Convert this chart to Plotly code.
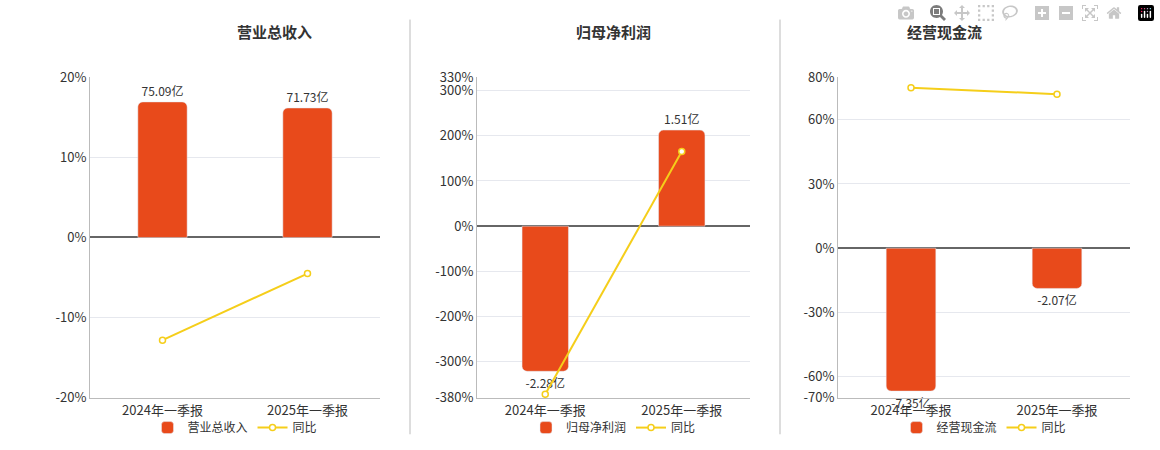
import plotly.graph_objects as go

periods = ["2024年一季报", "2025年一季报"]

titles = ["营业总收入", "归母净利润", "经营现金流"]
bar_values = [[75.09, 71.73], [-2.28, 1.51], [-7.35, -2.07]]
yoy_values = [[-12.8, -4.5], [-372, 165], [75, 72]]

pct_ticks = [
    [20, 10, 0, -10, -20],
    [330, 300, 200, 100, 0, -100, -200, -300, -380],
    [80, 60, 30, 0, -30, -60, -70],
]
pct_ranges = [[-20, 20], [-380, 330], [-70, 80]]
# bar units (亿) per 1% on the left axis
bar_scale = [75.09 / 16.9, 0.0071, 0.11]

BAR = "#E84A1B"
LINE = "#F5CE1A"
FONT = "Noto Sans CJK SC"

domains = [[90 / 1160, 380 / 1160], [477 / 1160, 750 / 1160], [838 / 1160, 1130 / 1160]]

fig = go.Figure()
layout = {}
annotations = []
for i in range(3):
    n = i + 1
    yb = 2 * i + 1
    yl = 2 * i + 2
    xa = "x" if n == 1 else "x%d" % n
    ybn = "y" if yb == 1 else "y%d" % yb
    yln = "y%d" % yl
    leg = "legend" if n == 1 else "legend%d" % n
    k = bar_scale[i]
    labels = ["%.2f亿" % v for v in bar_values[i]]
    fig.add_trace(go.Bar(x=periods, y=bar_values[i], xaxis=xa, yaxis=ybn,
                         name=titles[i], marker_color=BAR, width=0.34,
                         text=labels, textposition="outside", cliponaxis=False,
                         textfont=dict(size=12, color="#333"), legend=leg))
    fig.add_trace(go.Scatter(x=periods, y=yoy_values[i], xaxis=xa, yaxis=yln,
                             name="同比", mode="lines+markers",
                             line=dict(color=LINE, width=2),
                             marker=dict(size=6, color="white",
                                         line=dict(color=LINE, width=1.5)),
                             legend=leg))
    layout["xaxis" if n == 1 else "xaxis%d" % n] = dict(
        domain=domains[i], anchor=ybn, showline=True, linecolor="#bbb",
        ticks="", tickfont=dict(size=13, color="#333"))
    layout["yaxis" if yb == 1 else "yaxis%d" % yb] = dict(
        anchor=xa, range=[r * k for r in pct_ranges[i]],
        tickvals=[t * k for t in pct_ticks[i]],
        ticktext=["%d%%" % t for t in pct_ticks[i]],
        showgrid=True, gridcolor="#e6e8ee", zeroline=True, zerolinecolor="#666",
        zerolinewidth=1.5, showline=True, linecolor="#bbb",
        domain=[0.1, 1 - 70 / 450],
        tickfont=dict(size=13, color="#333"))
    layout["yaxis%d" % yl] = dict(
        overlaying=ybn, anchor=xa, range=pct_ranges[i], visible=False,
        domain=[0.1, 1 - 70 / 450])
    cx = (domains[i][0] + domains[i][1]) / 2
    layout[leg] = dict(orientation="h", x=cx, xanchor="center", y=1 - 436 / 450,
                       yanchor="middle", font=dict(size=12, color="#333"),
                       bgcolor="rgba(0,0,0,0)")
    annotations.append(dict(text="<b>%s</b>" % titles[i], x=cx, y=1 - 22 / 450,
                            yanchor="middle", xref="paper", yref="paper",
                            showarrow=False, font=dict(size=15, color="#333")))

shapes = [dict(type="line", xref="paper", yref="paper", x0=x, x1=x,
               y0=1 - 443 / 450, y1=1 - 10 / 450,
               line=dict(color="#bbb", width=1))
          for x in [410 / 1160, 780 / 1160]]

fig.update_layout(**layout)
fig.update_layout(width=1160, height=450, margin=dict(l=0, r=0, t=0, b=0),
                  paper_bgcolor="white", plot_bgcolor="white",
                  font=dict(family=FONT), annotations=annotations,
                  shapes=shapes, showlegend=True, barcornerradius=5)

fig.write_html("out.html")

# drop the default page margin so the chart sits at the window's corner
with open("out.html", encoding="utf-8") as f:
    html = f.read()
html = html.replace("<body>", '<body style="margin:0">', 1)
with open("out.html", "w", encoding="utf-8") as f:
    f.write(html)
